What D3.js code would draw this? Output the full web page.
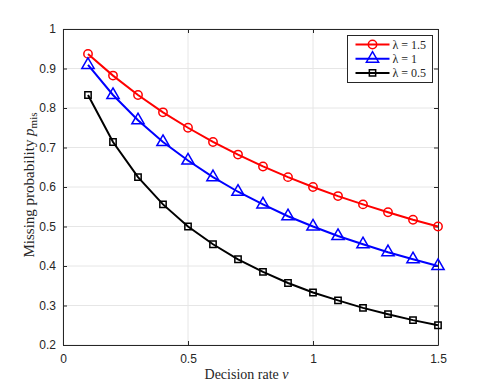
<!DOCTYPE html>
<html>
<head>
<meta charset="utf-8">
<script src="https://cdn.jsdelivr.net/npm/d3@7"></script>
<style>
  body { margin: 0; background: #fff; }
  .tick text { font-family: "Liberation Sans", Arial, sans-serif; font-size: 12px; fill: #262626; }
  .lbl { font-family: "Liberation Serif", "Times New Roman", serif; font-size: 13px; fill: #262626; }
</style>
</head>
<body>
<div id="chart"></div>
<script>
// decision rate nu
const nu = [0.1, 0.2, 0.3, 0.4, 0.5, 0.6, 0.7, 0.8, 0.9, 1.0, 1.1, 1.2, 1.3, 1.4, 1.5];
// missing probability
const lam15 = [0.937, 0.882, 0.833, 0.789, 0.750, 0.714, 0.682, 0.652, 0.625, 0.600, 0.577, 0.556, 0.536, 0.517, 0.500];
const lam10 = [0.909, 0.833, 0.769, 0.714, 0.667, 0.625, 0.588, 0.556, 0.526, 0.500, 0.476, 0.455, 0.435, 0.417, 0.400];
const lam05 = [0.833, 0.714, 0.625, 0.556, 0.500, 0.455, 0.417, 0.385, 0.357, 0.333, 0.313, 0.294, 0.278, 0.263, 0.250];
const xTicks = [0, 0.5, 1, 1.5];
const yTicks = [0.2, 0.3, 0.4, 0.5, 0.6, 0.7, 0.8, 0.9, 1];

const series = [
  { name: "1.5", values: lam15, color: "#ff0000", marker: "circle" },
  { name: "1", values: lam10, color: "#0000ff", marker: "triangle" },
  { name: "0.5", values: lam05, color: "#000000", marker: "square" }
];

const W = 485, H = 388;
const margin = { top: 29, right: 47, bottom: 43, left: 63 },
      width = W - margin.left - margin.right,
      height = H - margin.top - margin.bottom;

const svg = d3.select("#chart").append("svg")
    .attr("width", W).attr("height", H);
const g = svg.append("g").attr("transform", `translate(${margin.left},${margin.top})`);

const x = d3.scaleLinear().domain([0, 1.5]).range([0, width]);
const y = d3.scaleLinear().domain([0.2, 1]).range([height, 0]);

// grid
g.append("g").selectAll("line").data(xTicks).join("line")
    .attr("x1", d => x(d)).attr("x2", d => x(d))
    .attr("y1", 0).attr("y2", height)
    .attr("stroke", "#e6e6e6").attr("stroke-width", 1);
g.append("g").selectAll("line").data(yTicks).join("line")
    .attr("x1", 0).attr("x2", width)
    .attr("y1", d => y(d)).attr("y2", d => y(d))
    .attr("stroke", "#e6e6e6").attr("stroke-width", 1);

// axes (inward ticks, box)
const fmt = d => d3.format("")(d);
const axStyle = sel => {
  sel.select(".domain").attr("stroke", "#262626");
  sel.selectAll(".tick line").attr("stroke", "#262626");
};
g.append("g").attr("transform", `translate(0,${height})`)
  .call(d3.axisBottom(x).tickValues(xTicks).tickFormat(fmt).tickSizeInner(-4).tickSizeOuter(0).tickPadding(9))
  .call(axStyle);
g.append("g")
  .call(d3.axisLeft(y).tickValues(yTicks).tickFormat(fmt).tickSizeInner(-4).tickSizeOuter(0).tickPadding(7))
  .call(axStyle);
g.append("g")
  .call(d3.axisTop(x).tickValues(xTicks).tickFormat("").tickSizeInner(-4).tickSizeOuter(0))
  .call(axStyle);
g.append("g").attr("transform", `translate(${width},0)`)
  .call(d3.axisRight(y).tickValues(yTicks).tickFormat("").tickSizeInner(-4).tickSizeOuter(0))
  .call(axStyle);

// markers
const symbolOf = {
  circle: d3.symbol().type(d3.symbolCircle).size(55),
  triangle: d3.symbol().type(d3.symbolTriangle).size(65),
  square: d3.symbol().type(d3.symbolSquare).size(40)
};

const line = d3.line().x((d, i) => x(nu[i])).y(d => y(d));

series.forEach(s => {
  g.append("path").datum(s.values)
    .attr("d", line).attr("fill", "none")
    .attr("stroke", s.color).attr("stroke-width", 2);
  g.append("g").selectAll("path").data(s.values).join("path")
    .attr("d", symbolOf[s.marker])
    .attr("transform", (d, i) => `translate(${x(nu[i])},${y(d)})`)
    .attr("fill", "none").attr("stroke", s.color).attr("stroke-width", 1.5);
});

// legend
const lg = svg.append("g").attr("transform", "translate(347.5,35.5)");
lg.append("rect").attr("width", 85).attr("height", 47)
  .attr("fill", "#fff").attr("stroke", "#262626").attr("stroke-width", 1);
series.forEach((s, i) => {
  const yy = 9 + i * 14.2;
  lg.append("line").attr("x1", 8).attr("x2", 42).attr("y1", yy).attr("y2", yy)
    .attr("stroke", s.color).attr("stroke-width", 2);
  lg.append("path").attr("d", symbolOf[s.marker])
    .attr("transform", `translate(25,${yy})`)
    .attr("fill", "none").attr("stroke", s.color).attr("stroke-width", 1.5);
  lg.append("text").attr("class", "lbl").attr("x", 45).attr("y", yy + 4)
    .style("font-size", "12px")
    .text("\u03bb = " + s.name);
});

// axis labels
svg.append("text").attr("class", "lbl")
  .attr("x", margin.left + width / 2 - 4).attr("y", 379)
  .attr("text-anchor", "middle")
  .style("font-size", "14px")
  .html('Decision rate <tspan font-style="italic">\u03bd</tspan>');

const yl = svg.append("text").attr("class", "lbl")
  .attr("transform", `translate(34,${margin.top + height / 2 - 2}) rotate(-90)`)
  .attr("text-anchor", "middle")
  .style("font-size", "15px");
yl.append("tspan").text("Missing probability ");
yl.append("tspan").attr("font-style", "italic").text("p");
yl.append("tspan").attr("dy", 3).style("font-size", "11px").text("mis");
</script>
</body>
</html>
